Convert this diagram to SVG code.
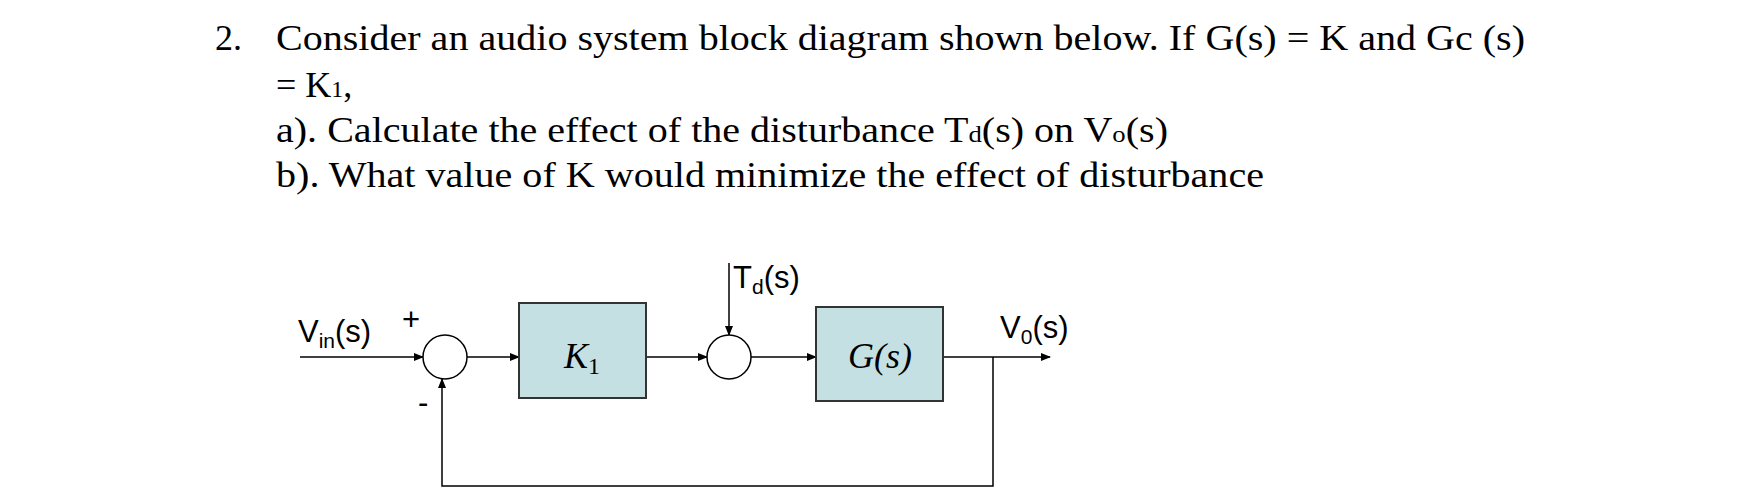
<svg xmlns="http://www.w3.org/2000/svg" width="1743" height="493" viewBox="0 0 1743 493">
<defs>
<marker id="ah" markerWidth="10" markerHeight="8" refX="9" refY="4" orient="auto" markerUnits="userSpaceOnUse"><path d="M0,0 L10,4 L0,8 Z" fill="#000"/></marker>
<style>
.q{font-family:"Liberation Serif",serif;font-size:36px;fill:#000}
.s{font-family:"Liberation Sans",Arial,sans-serif;font-size:31px;fill:#000}
.m{font-family:"Liberation Serif",serif;font-style:italic;font-size:36px;fill:#000}
.b{fill:#c4e0e3;stroke:#333;stroke-width:2}
.c{fill:#fff;stroke:#000;stroke-width:1.5}
.l{fill:none;stroke:#000;stroke-width:1.5}
</style>
</defs>
<rect width="1743" height="493" fill="#fff"/>
<g id="question">
<text class="q" x="215" y="50">2.</text>
<text class="q" x="276" y="50" textLength="1249" lengthAdjust="spacingAndGlyphs">Consider an audio system block diagram shown below. If G(s) = K and Gc (s)</text>
<text class="q" x="276" y="97">= K<tspan font-size="24">1</tspan>,</text>
<text class="q" x="276" y="142" textLength="892" lengthAdjust="spacingAndGlyphs">a). Calculate the effect of the disturbance T<tspan font-size="24">d</tspan>(s) on V<tspan font-size="24">o</tspan>(s)</text>
<text class="q" x="276" y="187" textLength="988" lengthAdjust="spacingAndGlyphs">b). What value of K would minimize the effect of disturbance</text>
</g>
<g id="connectors">
<line class="l" x1="300" y1="357" x2="423" y2="357" marker-end="url(#ah)"/>
<line class="l" x1="467" y1="357" x2="519" y2="357" marker-end="url(#ah)"/>
<line class="l" x1="646" y1="357" x2="707" y2="357" marker-end="url(#ah)"/>
<line class="l" x1="729" y1="263" x2="729" y2="335" marker-end="url(#ah)"/>
<line class="l" x1="751" y1="357" x2="816" y2="357" marker-end="url(#ah)"/>
<line class="l" x1="943" y1="357" x2="1050" y2="357" marker-end="url(#ah)"/>
<polyline class="l" points="993,357 993,486 442,486 442,379" marker-end="url(#ah)"/>
</g>
<g id="sum1"><circle class="c" cx="445" cy="357" r="22"/></g>
<g id="k1"><rect class="b" x="519" y="303" width="127" height="95"/><text class="m" x="582" y="368" text-anchor="middle">K<tspan font-size="24" font-style="normal" dy="6">1</tspan></text></g>
<g id="sum2"><circle class="c" cx="729" cy="357" r="22"/></g>
<g id="g"><rect class="b" x="816" y="307" width="127" height="94"/><text class="m" x="880" y="368" text-anchor="middle">G(s)</text></g>
<g id="labels">
<text class="s" x="298" y="342">V<tspan font-size="21" dy="6">in</tspan><tspan dy="-6">(s)</tspan></text>
<text class="s" x="402" y="330">+</text>
<text class="s" x="418" y="413">-</text>
<text class="s" x="733" y="288">T<tspan font-size="21" dy="6">d</tspan><tspan dy="-6">(s)</tspan></text>
<text class="s" x="1000" y="338">V<tspan font-size="21" dy="6">0</tspan><tspan dy="-6">(s)</tspan></text>
</g>
</svg>
